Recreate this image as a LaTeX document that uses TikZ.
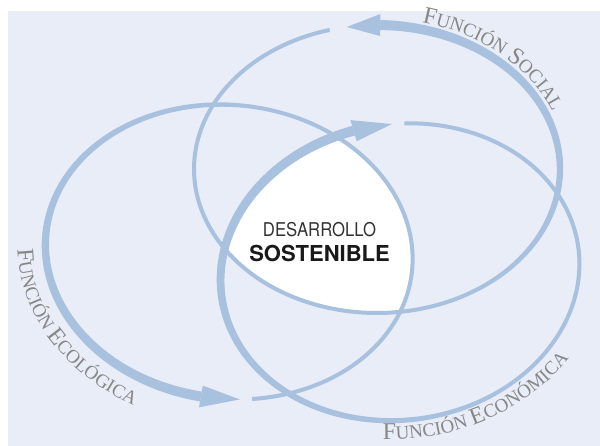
\documentclass[tikz,border=0pt]{standalone}
\usepackage{fontspec}
\setmainfont{Liberation Serif}
\newfontfamily\hsans{TeX Gyre Heros}
\usetikzlibrary{decorations.text}
\definecolor{bgc}{RGB}{232,237,247}
\definecolor{linec}{RGB}{168,193,222}
\definecolor{txtc}{RGB}{135,135,135}
\newcommand\tbig{\fontsize{24}{24}\selectfont\color{txtc}}
\newcommand\tsml{\fontsize{19}{19}\selectfont\color{txtc}}
% tapered band: cx cy rx ry t1 t2 w1 w2
\newcommand\taperband[8]{%
 \fill[linec] plot[domain=#5:#6,samples=120,variable=\t]
  ({#1+(#3+(#7+(#8-#7)*(\t-#5)/(#6-#5))/2)*cos(\t)},{#2+(#4+(#7+(#8-#7)*(\t-#5)/(#6-#5))/2)*sin(\t)})
  -- plot[domain=#6:#5,samples=120,variable=\t]
  ({#1+(#3-(#7+(#8-#7)*(\t-#5)/(#6-#5))/2)*cos(\t)},{#2+(#4-(#7+(#8-#7)*(\t-#5)/(#6-#5))/2)*sin(\t)}) -- cycle;}
% arrow head: cx cy rx ry tbase ttip halfwidth
\newcommand\arrowhd[7]{%
 \fill[linec] ({#1+(#3+#7)*cos(#5)},{#2+(#4+#7)*sin(#5)}) -- ({#1+#3*cos(#6)},{#2+#4*sin(#6)})
  -- ({#1+(#3-#7)*cos(#5)},{#2+(#4-#7)*sin(#5)}) -- cycle;}
% thin arc: cx cy rx ry t1 t2
\newcommand\thinarc[6]{%
 \draw[linec,line width=4] plot[domain=#5:#6,samples=120,variable=\t] ({#1+#3*cos(\t)},{#2+#4*sin(\t)});}
\begin{document}
\begin{tikzpicture}[x=1pt,y=-1pt]
\useasboundingbox (0,0) rectangle (600,446);
\fill[bgc] (8,11) rectangle (600,446);
% white intersection
\begin{scope}
 \clip (377,169) ellipse [x radius=183pt, y radius=144pt];
 \clip[rotate around={-6:(229,252)}] (229,252) ellipse [x radius=184pt, y radius=147pt];
 \fill[white,rotate around={8:(400,272)}] (400,272) ellipse [x radius=180pt, y radius=148pt];
\end{scope}
% social
\thinarc{377}{169}{183}{144}{57}{255}
\taperband{377}{169}{183}{144}{271}{417}{10}{4}
\arrowhd{377}{169}{183}{144}{271}{260.5}{11}
\path[decorate,decoration={text along path,text align=center,
  text={|\tbig|F|\tsml|UNCIÓN |\tbig|S|\tsml|OCIAL}}]
  plot[domain=272:352,samples=80,variable=\t] ({377+190*cos(\t)},{169+151*sin(\t)});
% ecological
\begin{scope}[rotate around={-6:(229,252)}]
\thinarc{229}{252}{184}{147}{-86}{78}
\taperband{229}{252}{184}{147}{94}{274}{10}{4}
\arrowhd{229}{252}{184}{147}{94}{81.8}{11}
\path[decorate,decoration={text along path,text align=center,
  text={|\tbig|F|\tsml|UNCIÓN |\tbig|E|\tsml|COLÓGICA}}]
  plot[domain=189:99,samples=80,variable=\t] ({229+212*cos(\t)},{252+175*sin(\t)});
\end{scope}
% economic
\begin{scope}[rotate around={8:(400,272)}]
\thinarc{400}{272}{180}{148}{278}{420}
\taperband{400}{272}{180}{148}{261.6}{60}{10}{4}
\arrowhd{400}{272}{180}{148}{261.6}{274}{11}
\path[decorate,decoration={text along path,text align=center,
  text={|\tbig|F|\tsml|UNCIÓN |\tbig|E|\tsml|CONÓMICA}}]
  plot[domain=118:22,samples=80,variable=\t] ({400+205*cos(\t)},{272+167*sin(\t)});
\end{scope}
% centre
\node[font=\hsans\fontsize{19}{19}\selectfont, text=black!80, xscale=0.88, inner sep=0] (des) at (319.5,230) {DESARROLLO};
\node[font=\hsans\bfseries\fontsize{22}{22}\selectfont, text=black!90, inner sep=0] (sos) at (319.5,253) {SOSTENIBLE};
\end{tikzpicture}
\end{document}
